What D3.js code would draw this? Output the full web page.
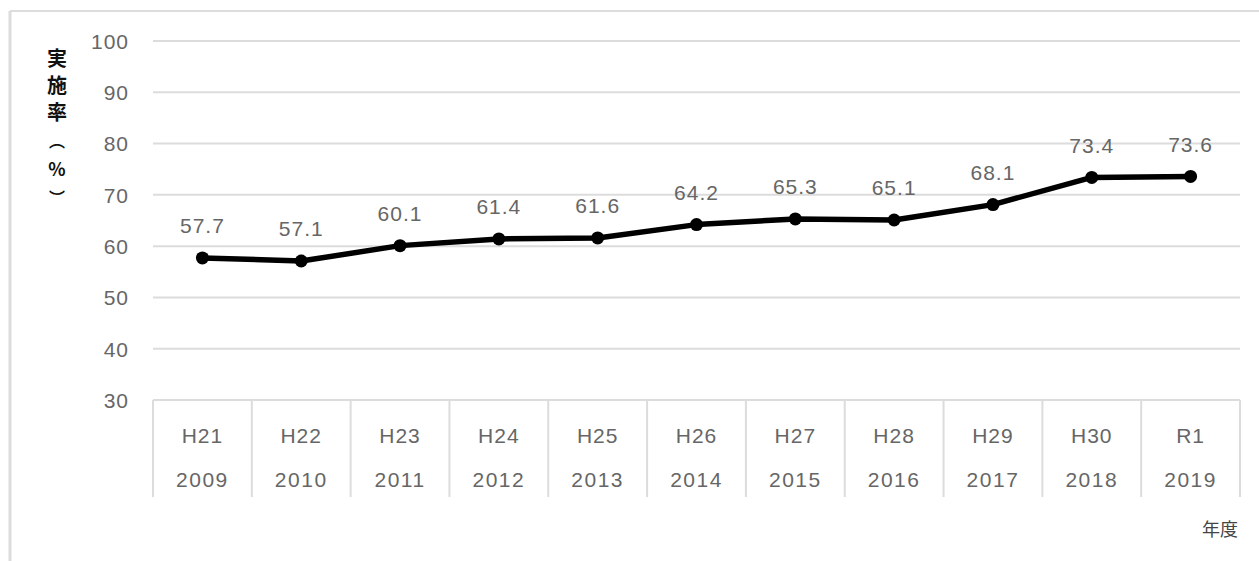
<!DOCTYPE html>
<html>
<head>
<meta charset="utf-8">
<script src="https://cdn.jsdelivr.net/npm/d3@7"></script>
<style>
  html, body { margin: 0; padding: 0; background: #fff; }
  svg { display: block; }
</style>
</head>
<body>
<svg id="chart" width="1259" height="561"></svg>
<script>
// Fiscal-year labels (era name / western year) and implementation rate (%)
const eraLabels  = ["H21", "H22", "H23", "H24", "H25", "H26", "H27", "H28", "H29", "H30", "R1"];
const yearLabels = ["2009", "2010", "2011", "2012", "2013", "2014", "2015", "2016", "2017", "2018", "2019"];
const rates      = [57.7, 57.1, 60.1, 61.4, 61.6, 64.2, 65.3, 65.1, 68.1, 73.4, 73.6];
const yTicks     = [30, 40, 50, 60, 70, 80, 90, 100];
const yTitleChars = ["実", "施", "率", "︵", "%", "︶"];
const xUnit      = "年度";

(function () {
  const svg = d3.select("#chart");
  const W = 1259, H = 561;
  const plotL = 153, plotR = 1240, plotT = 41, plotB = 400;
  const tableBottom = 497;
  const gridColor = "#dcdcdc";
  const textColor = "#666";
  const font = "'Liberation Sans', Arial, sans-serif";
  const fs = 21;

  // outer frame (top and left edges visible)
  svg.append("line").attr("x1", 10).attr("x2", W).attr("y1", 11).attr("y2", 11)
    .attr("stroke", gridColor).attr("stroke-width", 2);
  svg.append("line").attr("x1", 10).attr("x2", 10).attr("y1", 11).attr("y2", H)
    .attr("stroke", gridColor).attr("stroke-width", 3);

  const x = d3.scaleBand().domain(eraLabels).range([plotL, plotR]).padding(0);
  const y = d3.scaleLinear().domain([30, 100]).range([plotB, plotT]);

  // horizontal gridlines
  svg.append("g").selectAll("line").data(yTicks).join("line")
    .attr("x1", plotL).attr("x2", plotR)
    .attr("y1", d => y(d)).attr("y2", d => y(d))
    .attr("stroke", gridColor).attr("stroke-width", 2);

  // y axis tick labels
  const yAxis = d3.axisLeft(y).tickValues(yTicks).tickSize(0).tickPadding(0);
  const gy = svg.append("g").attr("transform", "translate(129,0)").call(yAxis);
  gy.select(".domain").remove();
  gy.selectAll("text")
    .attr("fill", textColor).attr("font-family", font).attr("font-size", fs)
    .attr("letter-spacing", 1).attr("dy", "0.35em");

  // category table below the plot
  const boundaries = eraLabels.map(d => x(d)).concat([plotR]);
  svg.append("g").selectAll("line").data(boundaries).join("line")
    .attr("x1", d => d).attr("x2", d => d)
    .attr("y1", plotB).attr("y2", tableBottom)
    .attr("stroke", gridColor).attr("stroke-width", 2);

  const xg = svg.append("g");
  xg.selectAll("text.era").data(eraLabels).join("text")
    .attr("class", "era")
    .attr("x", d => x(d) + x.bandwidth() / 2).attr("y", 436)
    .attr("text-anchor", "middle").attr("dy", "0.35em")
    .attr("fill", textColor).attr("font-family", font).attr("font-size", fs)
    .attr("letter-spacing", 1)
    .text(d => d);
  xg.selectAll("text.year").data(yearLabels).join("text")
    .attr("class", "year")
    .attr("x", (d, i) => x(eraLabels[i]) + x.bandwidth() / 2).attr("y", 480)
    .attr("text-anchor", "middle").attr("dy", "0.35em")
    .attr("fill", textColor).attr("font-family", font).attr("font-size", fs)
    .attr("letter-spacing", 1.5)
    .text(d => d);

  // line and markers
  const pts = rates.map((v, i) => ({ k: eraLabels[i], v }));
  const cx = d => x(d.k) + x.bandwidth() / 2;
  svg.append("path").datum(pts)
    .attr("fill", "none").attr("stroke", "#000").attr("stroke-width", 5.5)
    .attr("stroke-linejoin", "round")
    .attr("d", d3.line().x(cx).y(d => y(d.v)));
  svg.append("g").selectAll("circle").data(pts).join("circle")
    .attr("cx", cx).attr("cy", d => y(d.v)).attr("r", 6.5).attr("fill", "#000");

  // value labels
  svg.append("g").selectAll("text").data(pts).join("text")
    .attr("x", cx).attr("y", d => y(d.v) - 32)
    .attr("text-anchor", "middle").attr("dy", "0.35em")
    .attr("fill", textColor).attr("font-family", font).attr("font-size", fs)
    .attr("letter-spacing", 1)
    .text(d => d.v.toFixed(1));

  // vertical y axis title, one glyph per line
  const titleY = [59, 86, 113, 141, 170, 198];
  const titleSize = [20, 20, 20, 16, 18, 16];
  svg.append("text")
    .attr("text-anchor", "middle")
    .attr("fill", "#111").attr("font-weight", "bold")
    .attr("font-family", "'Noto Sans CJK JP', sans-serif")
    .selectAll("tspan").data(yTitleChars).join("tspan")
    .attr("x", 57).attr("y", (d, i) => titleY[i]).attr("dy", "0.36em")
    .attr("font-size", (d, i) => titleSize[i])
    .text(d => d);

  // x axis unit
  svg.append("text").attr("x", 1220).attr("y", 530)
    .attr("text-anchor", "middle").attr("dy", "0.35em")
    .attr("fill", "#444").attr("font-family", "'Noto Sans CJK JP', sans-serif")
    .attr("font-size", 18).text(xUnit);
})();
</script>
</body>
</html>
